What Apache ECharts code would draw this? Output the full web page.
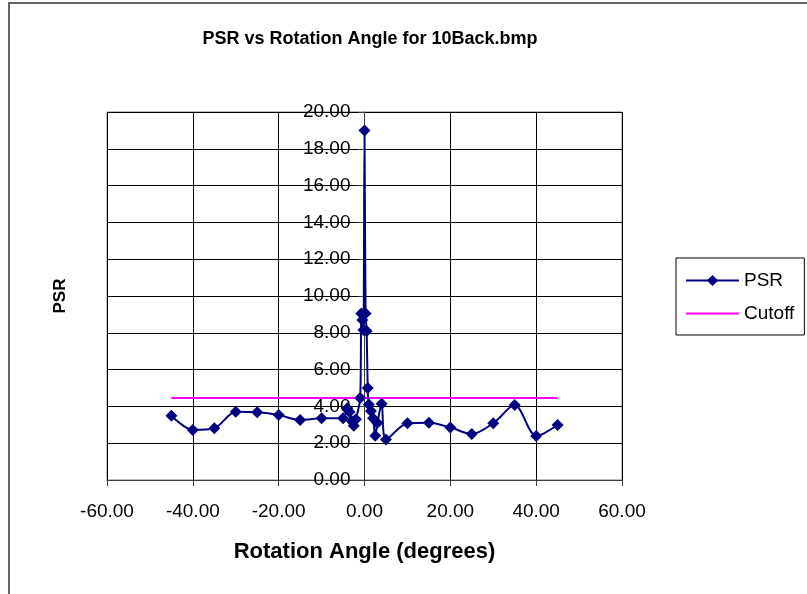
<!DOCTYPE html>
<html>
<head>
<meta charset="utf-8">
<script src="https://cdn.jsdelivr.net/npm/echarts@6/dist/echarts.min.js"></script>
<style>html,body{margin:0;padding:0;background:#fff}#c{width:807px;height:594px}</style>
</head>
<body>
<div id="c"></div>
<script>
const angles = [-45,-40,-35,-30,-25,-20,-15,-10,-5,-4,-3.5,-3,-2.5,-2,-1,-0.75,-0.5,-0.25,0,0.25,0.5,0.75,1,1.5,2,2.5,3,4,5,10,15,20,25,30,35,40,45];
const psr = [3.49,2.72,2.81,3.71,3.68,3.53,3.26,3.35,3.35,3.9,3.7,3.2,2.95,3.3,4.45,9.05,8.7,8.15,19.0,9.05,8.1,5.0,4.1,3.75,3.35,2.4,3.1,4.15,2.2,3.08,3.11,2.86,2.5,3.08,4.07,2.39,2.99];
const cutoffX = [-45, 45];
const cutoffY = [4.45, 4.45];
const titleText = 'PSR vs Rotation Angle for 10Back.bmp';
const xName = 'Rotation Angle (degrees)';
const yName = 'PSR';

const font = "'Liberation Sans', Arial, sans-serif";
const chart = echarts.init(document.getElementById('c'));
chart.setOption({
  backgroundColor: '#fff',
  animation: false,
  textStyle: { fontFamily: font },
  title: {
    text: titleText, left: 365, top: 25, textAlign: 'center',
    textStyle: { fontFamily: font, fontSize: 18, fontWeight: 'bold', color: '#000' }
  },
  graphic: [{
    type: 'rect', shape: { x: 9, y: 3, width: 900, height: 700 },
    style: { fill: 'none', stroke: '#333', lineWidth: 1.5 }, silent: true, z: -1
  }],
  legend: {
    orient: 'vertical', left: 676, top: 258,
    padding: [13, 10, 12, 9], itemGap: 14, itemWidth: 53, itemHeight: 14,
    borderColor: '#000', borderWidth: 1,
    textStyle: { fontFamily: font, fontSize: 19, color: '#000' },
    data: [
      { name: 'PSR' },
      { name: 'Cutoff', icon: 'path://M0,0L0.01,0M0,6L53,6L53,8L0,8ZM0,14L0.01,14' }
    ]
  },
  grid: {
    left: 107, right: 185, top: 112, bottom: 114,
    containLabel: false, outerBoundsMode: 'none',
    show: true, borderColor: '#808080', borderWidth: 1
  },
  xAxis: {
    type: 'value', min: -60, max: 60, interval: 20,
    name: xName, nameLocation: 'middle', nameGap: 61,
    nameTextStyle: { fontFamily: font, fontSize: 22, fontWeight: 'bold', color: '#000' },
    axisLine: { show: true, onZero: false, lineStyle: { color: '#404040', width: 1 } },
    axisTick: { show: true, length: 6, lineStyle: { color: '#404040' } },
    axisLabel: { margin: 22, fontFamily: font, fontSize: 19, color: '#000', formatter: v => v.toFixed(2) },
    splitLine: { show: true, lineStyle: { color: '#000', width: 1 } }
  },
  yAxis: {
    type: 'value', min: 0, max: 20, interval: 2,
    offset: -257.5,
    name: yName, nameLocation: 'middle', nameGap: 296,
    nameTextStyle: { fontFamily: font, fontSize: 17, fontWeight: 'bold', color: '#000' },
    axisLine: { show: true, onZero: false, lineStyle: { color: '#404040', width: 1 } },
    axisTick: { show: true, length: 6, lineStyle: { color: '#404040' } },
    axisLabel: { margin: 14, fontFamily: font, fontSize: 19, color: '#000', formatter: v => v.toFixed(2) },
    splitLine: { show: true, lineStyle: { color: '#000', width: 1 } }
  },
  series: [
    {
      name: 'PSR', type: 'line', smooth: 0.3,
      data: angles.map((a, i) => [a, psr[i]]),
      symbol: 'diamond', symbolSize: 12,
      itemStyle: { color: '#000080' },
      lineStyle: { color: '#000080', width: 2 },
      z: 3
    },
    {
      name: 'Cutoff', type: 'line',
      data: cutoffX.map((a, i) => [a, cutoffY[i]]),
      symbol: 'none', showSymbol: false,
      itemStyle: { color: '#ff00ff' },
      lineStyle: { color: '#ff00ff', width: 2 },
      z: 2
    }
  ]
});
</script>
</body>
</html>
